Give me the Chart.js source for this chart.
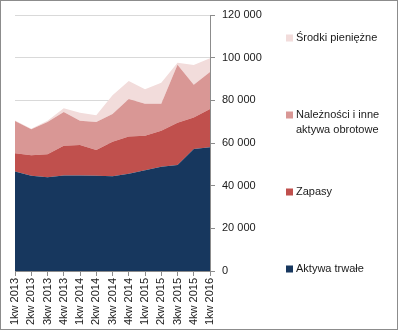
<!DOCTYPE html>
<html><head><meta charset="utf-8">
<script src="https://cdn.jsdelivr.net/npm/chart.js@4/dist/chart.umd.min.js"></script>
<style>
html,body{margin:0;padding:0;background:#fff;}
#wrap{width:398px;height:330px;box-sizing:border-box;border:1px solid #8c8c8c;}
canvas{display:block;}
</style></head><body>
<div id="wrap"><canvas id="c" width="396" height="328"></canvas></div>
<script>
const categories = ["1kw 2013","2kw 2013","3kw 2013","4kw 2013","1kw 2014","2kw 2014","3kw 2014","4kw 2014","1kw 2015","2kw 2015","3kw 2015","4kw 2015","1kw 2016"];
const aktywaTrwale = [46600,44700,43900,44800,44800,44700,44400,45600,47200,48900,49700,57200,58000];
const zapasy      = [8550,9500,10800,13950,14260,12000,16200,17500,16200,16800,19800,14800,17900];
const naleznosci  = [15150,12200,15140,15780,11410,13140,12990,17525,15040,12740,27200,15340,17380];
const srodki      = [300,300,630,1720,3750,3160,8750,8435,6720,9840,960,9220,6410];
const yTicks = [0,20000,40000,60000,80000,100000,120000];

const seriesNames = ["Aktywa trwałe","Zapasy","Należności i inne aktywa obrotowe","Środki pieniężne"];
const legendLines = [["Aktywa trwałe"],["Zapasy"],["Należności i inne","aktywa obrotowe"],["Środki pieniężne"]];
const colors = ["#17375E","#C0504D","#D99795","#F2DCDB"];
const values = [aktywaTrwale, zapasy, naleznosci, srodki];

const FONT = "'Liberation Sans', Arial, sans-serif";
Chart.defaults.font.family = FONT;
Chart.defaults.font.size = 11;
Chart.defaults.color = "#1a1a1a";

const legendPlugin = {
  id: 'sideLegend',
  afterDraw(chart) {
    const ctx = chart.ctx;
    ctx.save();
    ctx.font = "11px " + FONT;
    ctx.textBaseline = 'middle';
    ctx.fillStyle = '#1a1a1a';
    const x = 285, startY = 37, step = 77;
    for (let k = 0; k < 4; k++) {
      const i = 3 - k;
      const cy = startY + k * step;
      ctx.fillStyle = colors[i];
      ctx.fillRect(x, cy - 3.5, 7, 7);
      ctx.fillStyle = '#1a1a1a';
      legendLines[i].forEach((ln, j) => ctx.fillText(ln, x + 10, cy + j * 15));
    }
    ctx.restore();
  }
};

new Chart(document.getElementById('c'), {
  type: 'line',
  data: {
    labels: categories,
    datasets: values.map((v, i) => ({
      label: seriesNames[i],
      data: v,
      backgroundColor: colors[i],
      borderColor: colors[i],
      borderWidth: 0,
      pointRadius: 0,
      tension: 0,
      fill: i === 0 ? 'origin' : '-1'
    }))
  },
  options: {
    responsive: false,
    animation: false,
    layout: { padding: { left: 14, top: 14, right: 117, bottom: 0 } },
    plugins: { legend: { display: false }, tooltip: { enabled: false } },
    elements: { line: { borderWidth: 0 } },
    scales: {
      x: {
        offset: false,
        grid: { drawOnChartArea: false, drawTicks: true, tickLength: 5, tickColor: '#8c8c8c' },
        border: { display: true, color: '#8c8c8c' },
        ticks: { minRotation: 90, maxRotation: 90, autoSkip: false, padding: 2, font: { size: 11 } },
        afterFit(s) { s.height = 58; s.paddingLeft = 0; s.paddingRight = 0; }
      },
      y: {
        position: 'right',
        stacked: true,
        min: 0, max: 120000,
        afterBuildTicks(s) { s.ticks = yTicks.map(v => ({ value: v })); },
        grid: { color: '#d9d9d9', tickLength: 5, tickColor: '#8c8c8c', drawTicks: true },
        border: { display: true, color: '#8c8c8c' },
        ticks: {
          padding: 7,
          callback: v => String(v).replace(/\B(?=(\d{3})+(?!\d))/g, ' ')
        },
        afterFit(s) { s.width = 70; s.paddingTop = 0; s.paddingBottom = 0; }
      }
    }
  },
  plugins: [legendPlugin]
});
</script>
</body></html>
